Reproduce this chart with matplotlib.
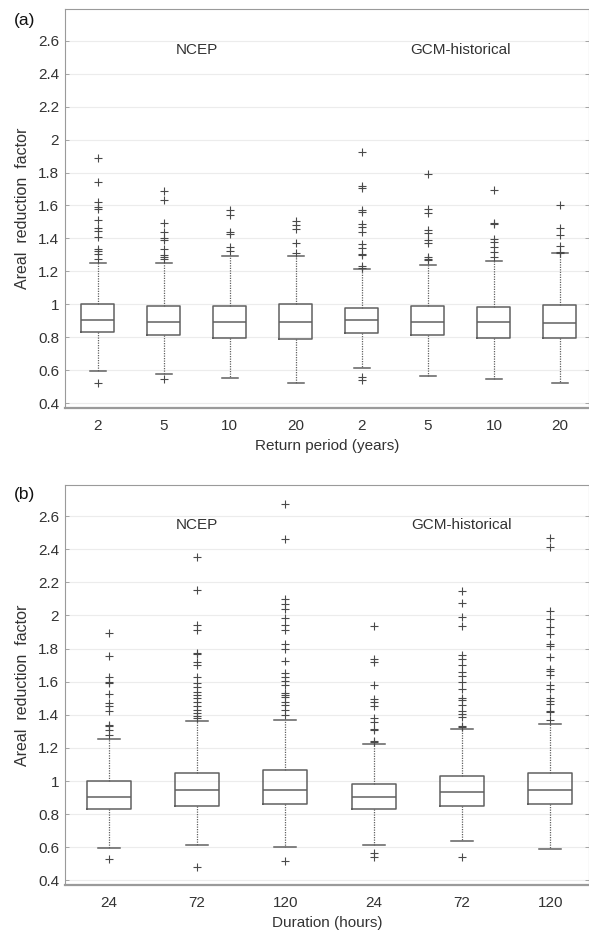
import numpy as np
import matplotlib
matplotlib.use("Agg")
import matplotlib.pyplot as plt

plt.rcParams['font.family'] = ['Liberation Sans', 'DejaVu Sans']

# ---- panel (a): return period ----
labels_a = ["2", "5", "10", "20", "2", "5", "10", "20"]
med_a = [0.904, 0.894, 0.894, 0.894, 0.904, 0.896, 0.894, 0.890]
q1_a = [0.834, 0.814, 0.796, 0.790, 0.826, 0.814, 0.798, 0.796]
q3_a = [1.000, 0.990, 0.990, 1.000, 0.978, 0.988, 0.986, 0.998]
wlo_a = [0.596, 0.576, 0.556, 0.526, 0.616, 0.568, 0.546, 0.524]
whi_a = [1.250, 1.250, 1.292, 1.292, 1.216, 1.236, 1.266, 1.310]
fl_a = [
    [0.526, 1.276, 1.306, 1.322, 1.336, 1.41, 1.446, 1.462, 1.51, 1.58, 1.59, 1.622, 1.742, 1.886],
    [0.546, 1.276, 1.286, 1.30, 1.334, 1.39, 1.402, 1.44, 1.496, 1.634, 1.686],
    [1.326, 1.35, 1.426, 1.442, 1.542, 1.57],
    [1.31, 1.37, 1.456, 1.48, 1.506],
    [0.54, 0.56, 1.222, 1.23, 1.30, 1.304, 1.342, 1.366, 1.44, 1.47, 1.49, 1.562, 1.57, 1.706, 1.72, 1.922],
    [1.27, 1.276, 1.29, 1.372, 1.39, 1.436, 1.45, 1.556, 1.58, 1.792],
    [1.286, 1.316, 1.35, 1.376, 1.396, 1.486, 1.496, 1.696],
    [1.312, 1.316, 1.356, 1.42, 1.466, 1.602],
]

# ---- panel (b): duration ----
labels_b = ["24", "72", "120", "24", "72", "120"]
med_b = [0.904, 0.944, 0.944, 0.904, 0.936, 0.944]
q1_b = [0.834, 0.848, 0.864, 0.830, 0.848, 0.860]
q3_b = [1.000, 1.050, 1.068, 0.980, 1.028, 1.050]
wlo_b = [0.598, 0.614, 0.602, 0.616, 0.636, 0.588]
whi_b = [1.254, 1.360, 1.370, 1.222, 1.314, 1.344]
fl_b = [
    [0.53, 1.28, 1.31, 1.33, 1.34, 1.42, 1.45, 1.474, 1.524, 1.594, 1.60, 1.63, 1.754, 1.896],
    [0.48, 1.38, 1.394, 1.41, 1.426, 1.454, 1.48, 1.50, 1.52, 1.54, 1.566, 1.59, 1.63, 1.70, 1.72,
     1.766, 1.77, 1.91, 1.94, 2.156, 2.35],
    [0.52, 1.40, 1.43, 1.456, 1.48, 1.506, 1.52, 1.534, 1.58, 1.606, 1.63, 1.654, 1.724, 1.80, 1.83,
     1.914, 1.944, 1.986, 2.04, 2.07, 2.10, 2.464, 2.674],
    [0.54, 0.564, 1.234, 1.244, 1.31, 1.314, 1.354, 1.378, 1.45, 1.478, 1.498, 1.578, 1.72, 1.738, 1.938],
    [0.544, 1.324, 1.334, 1.384, 1.404, 1.424, 1.458, 1.49, 1.504, 1.554, 1.598, 1.634, 1.66, 1.698,
     1.734, 1.76, 1.938, 1.988, 2.074, 2.15],
    [1.37, 1.418, 1.424, 1.464, 1.484, 1.504, 1.558, 1.578, 1.64, 1.664, 1.678, 1.748, 1.814, 1.828,
     1.89, 1.928, 1.978, 2.028, 2.41, 2.47],
]

yticks = [0.4, 0.6, 0.8, 1.0, 1.2, 1.4, 1.6, 1.8, 2.0, 2.2, 2.4, 2.6]
ytick_labels = ["0.4", "0.6", "0.8", "1", "1.2", "1.4", "1.6", "1.8", "2", "2.2", "2.4", "2.6"]

edge = "#606060"


def panel(ax, labels, med, q1, q3, wlo, whi, fliers, xlabel):
    stats = []
    for i in range(len(labels)):
        stats.append(dict(med=med[i], q1=q1[i], q3=q3[i], whislo=wlo[i], whishi=whi[i],
                          fliers=fliers[i]))
    n = len(labels)
    ax.bxp(stats, positions=np.arange(1, n + 1), widths=0.5, capwidths=0.25,
           boxprops=dict(color=edge, linewidth=1.1),
           medianprops=dict(color=edge, linewidth=1.1),
           whiskerprops=dict(color=edge, linewidth=0.9, linestyle=(0, (1, 1))),
           capprops=dict(color=edge, linewidth=1.1),
           flierprops=dict(marker="+", markersize=6, markeredgecolor="#4a4a4a",
                           markeredgewidth=0.8, linestyle="none"))
    ax.set_xlim(0.5, n + 0.44)
    ax.set_ylim(0.37, 2.79)
    ax.set_yticks(yticks)
    ax.set_yticklabels(ytick_labels)
    ax.set_xticks(np.arange(1, n + 1))
    ax.set_xticklabels(labels)
    ax.yaxis.grid(True, color="#ececec", linewidth=0.8)
    ax.set_axisbelow(True)
    ax.tick_params(axis="both", direction="in", labelsize=11, colors="#333333",
                   length=3, width=0.6, right=True)
    ax.tick_params(axis="x", length=0, pad=8)
    ax.tick_params(axis="y", pad=4, color="#999999")
    for s in ["top", "left", "right"]:
        ax.spines[s].set_color("#9a9a9a")
        ax.spines[s].set_linewidth(0.8)
    ax.spines["bottom"].set_color("#9a9a9a")
    ax.spines["bottom"].set_linewidth(1.6)
    ax.set_ylabel("Areal  reduction  factor", fontsize=11.5, color="#333333", labelpad=6)
    ax.set_xlabel(xlabel, fontsize=11, color="#333333", labelpad=4)
    g = n / 2
    ax.text((1 + g) / 2, 2.545, "NCEP", ha="center", va="center", fontsize=11, color="#333333")
    ax.text((g + 1 + n) / 2, 2.545, "GCM-historical", ha="center", va="center",
            fontsize=11, color="#333333")


fig = plt.figure(figsize=(5.89, 9.30), dpi=100)
ax1 = fig.add_axes([0.110, 0.561, 0.890, 0.429])
ax2 = fig.add_axes([0.110, 0.048, 0.890, 0.431])

panel(ax1, labels_a, med_a, q1_a, q3_a, wlo_a, whi_a, fl_a, "Return period (years)")
panel(ax2, labels_b, med_b, q1_b, q3_b, wlo_b, whi_b, fl_b, "Duration (hours)")

fig.text(0.024, 0.978, "(a)", fontsize=12.5, color="#111111", va="center", ha="left")
fig.text(0.024, 0.468, "(b)", fontsize=12.5, color="#111111", va="center", ha="left")

fig.savefig("out.png", dpi=100)
